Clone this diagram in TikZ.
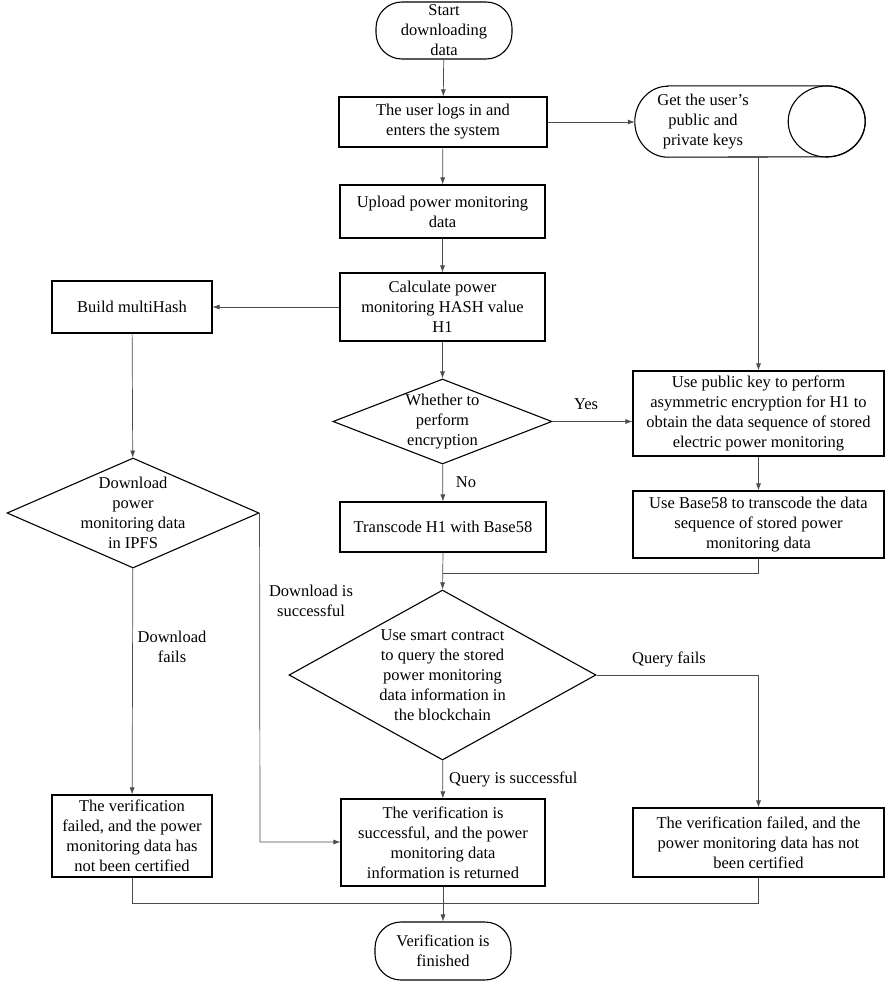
\documentclass[tikz,border=0pt]{standalone}
\usepackage{fontspec}
\setmainfont{Liberation Serif}
\usetikzlibrary{shapes.geometric,arrows.meta}
\begin{document}
\begin{tikzpicture}[x=1pt,y=-1pt,
  every node/.style={font=\fontsize{16.5}{20}\selectfont, align=center, inner sep=0pt},
  outline/.style={draw, line width=1.1pt},
  box/.style={outline, rectangle},
  term/.style={outline, rectangle, rounded corners=26pt},
  dec/.style={outline, diamond, aspect=1},
  conn/.style={line width=0.7pt, draw=black!70},
  arr/.style={conn, -{Latex[length=7pt,width=5pt]}},
  lbl/.style={font=\fontsize{16.5}{20}\selectfont}
]
\useasboundingbox (0,0) rectangle (886,982);

% nodes
\node[term, minimum width=136pt, minimum height=57pt] (start) at (444,30.5) {Start\\downloading\\data};
\node[box, minimum width=208pt, minimum height=50pt] (login) at (443,122) {The user logs in and\\enters the system};
\node[rectangle, minimum width=230pt, minimum height=71pt] (keys) at (750,121.5) {};
\draw[outline] ([xshift=33pt]keys.north west) -- ([xshift=-38.5pt]keys.north east)
  arc[start angle=90, end angle=-90, x radius=38.5pt, y radius=35.5pt]
  -- ([xshift=33pt]keys.south west)
  arc[start angle=270, end angle=90, x radius=33pt, y radius=35.5pt] -- cycle;
\draw[outline] ([xshift=-38.5pt]keys.east) ellipse [x radius=38.5pt, y radius=35.5pt];
\node (keystext) at (703,121.5) {Get the user’s\\public and\\private keys};
\node[box, minimum width=205pt, minimum height=53pt] (upload) at (442.5,211.5) {Upload power monitoring\\data};
\node[box, minimum width=205pt, minimum height=68pt] (calc) at (442.5,307) {Calculate power\\monitoring HASH value\\H1};
\node[box, minimum width=160pt, minimum height=52pt] (build) at (132,307) {Build multiHash};
\node[dec, minimum width=219pt, minimum height=85pt] (whether) at (442.5,421.5) {};
\node (whethertext) at (442.5,421.5) {Whether to\\perform\\encryption};
\node[box, minimum width=251pt, minimum height=85pt] (encrypt) at (758.5,413.5) {Use public key to perform\\asymmetric encryption for H1 to\\obtain the data sequence of stored\\electric power monitoring};
\node[box, minimum width=206pt, minimum height=50pt] (transcode) at (443,527) {Transcode H1 with Base58};
\node[box, minimum width=251pt, minimum height=67pt] (base58) at (758.5,524.5) {Use Base58 to transcode the data\\sequence of stored power\\monitoring data};
\node[dec, minimum width=252pt, minimum height=110pt] (download) at (133,513) {};
\node (downloadtext) at (133,513) {Download\\power\\monitoring data\\in IPFS};
\node[dec, minimum width=307pt, minimum height=170pt] (query) at (442.5,675) {};
\node (querytext) at (442.5,675) {Use smart contract\\to query the stored\\power monitoring\\data information in\\the blockchain};
\node[box, minimum width=160pt, minimum height=82pt] (failL) at (132,836) {The verification\\failed, and the power\\monitoring data has\\not been certified};
\node[box, minimum width=204pt, minimum height=87pt] (success) at (443,842.5) {The verification is\\successful, and the power\\monitoring data\\information is returned};
\node[box, minimum width=251pt, minimum height=69pt] (failR) at (758.5,842.5) {The verification failed, and the\\power monitoring data has not\\been certified};
\node[term, minimum width=136pt, minimum height=58pt] (end) at (443,951) {Verification is\\finished};

\coordinate (m1) at (443,573);
\coordinate (m2) at (443,903);
\coordinate (dk) at (260,842);

% connectors
\draw[arr] (start) -- (login);
\draw[arr] (login.east) -- (keys.west |- login.east);
\draw[arr] (encrypt.north |- keys.south) -- (encrypt.north);
\draw[arr] (login) -- (upload);
\draw[arr] (upload) -- (calc);
\draw[arr] (calc.west) -- (build.east);
\draw[arr] (calc) -- (whether);
\draw[arr] (whether.east) -- (whether.east -| encrypt.west);
\node[lbl] (yes) at (586,404) {Yes};
\draw[arr] (whether) -- (transcode);
\node[lbl] (no) at (466,482) {No};
\draw[arr] (encrypt) -- (base58);
\draw[conn] (base58.south) |- (m1);
\draw[arr] (transcode.south) -- (query.north);
\draw[arr] (build) -- (download);
\draw[arr] (download) -- (failL);
\node[lbl] (dfails) at (172,647) {Download\\fails};
\draw[arr] (download.east) -- (dk) -- (success.west |- dk);
\node[lbl] (dsucc) at (311,601) {Download is\\successful};
\draw[arr] (query) -- (success);
\node[lbl, anchor=west] (qsucc) at (449,779) {Query is successful};
\draw[arr] (query.east) -| (failR.north);
\node[lbl] (qfails) at (669,659) {Query fails};
\draw[conn] (failL.south) |- (m2);
\draw[conn] (failR.south) |- (m2);
\draw[arr] (success) -- (end);
\end{tikzpicture}
\end{document}
